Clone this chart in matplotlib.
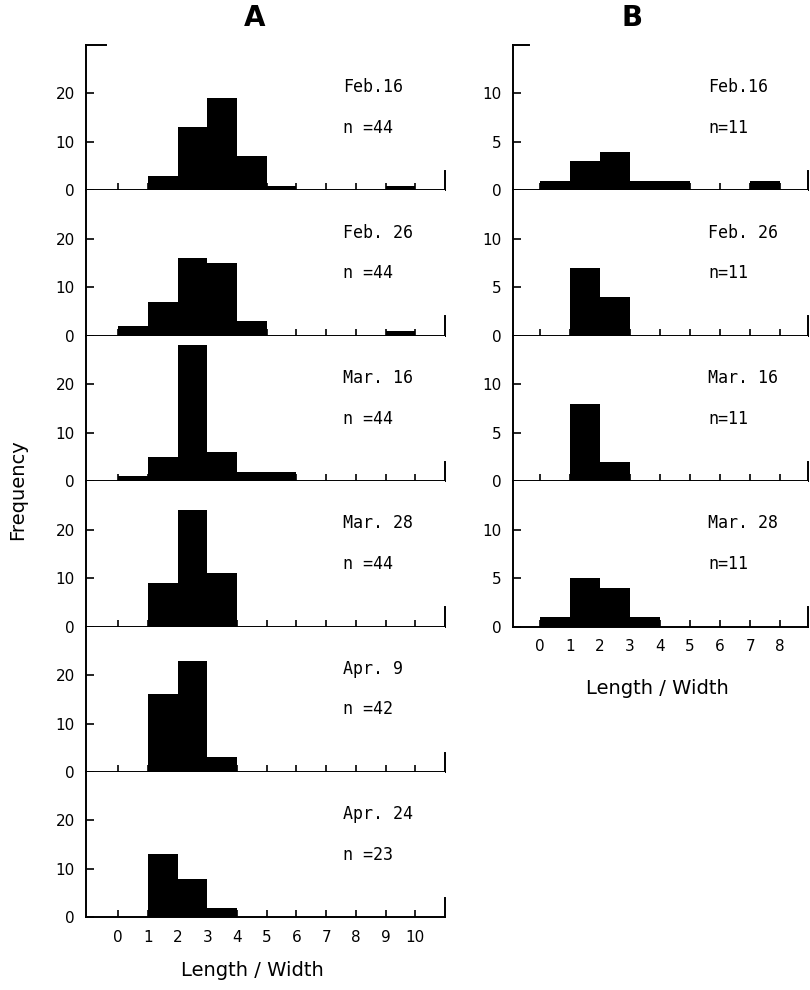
import matplotlib
matplotlib.use("Agg")
import matplotlib.pyplot as plt

# ---- data ----
bins_a = list(range(0, 10))          # left edges of bins, panel A
bins_b = list(range(0, 9))           # left edges of bins, panel B
xticks_a = list(range(0, 11))
xticks_b = list(range(0, 9))

dates_a = ["Feb.16", "Feb. 26", "Mar. 16", "Mar. 28", "Apr. 9", "Apr. 24"]
n_a = ["n =44", "n =44", "n =44", "n =44", "n =42", "n =23"]
feb16_a = [0, 3, 13, 19, 7, 1, 0, 0, 0, 1]
feb26_a = [2, 7, 16, 15, 3, 0, 0, 0, 0, 1]
mar16_a = [1, 5, 28, 6, 2, 2, 0, 0, 0, 0]
mar28_a = [0, 9, 24, 11, 0, 0, 0, 0, 0, 0]
apr9_a = [0, 16, 23, 3, 0, 0, 0, 0, 0, 0]
apr24_a = [0, 13, 8, 2, 0, 0, 0, 0, 0, 0]
counts_a = [feb16_a, feb26_a, mar16_a, mar28_a, apr9_a, apr24_a]

dates_b = ["Feb.16", "Feb. 26", "Mar. 16", "Mar. 28"]
n_b = ["n=11", "n=11", "n=11", "n=11"]
feb16_b = [1, 3, 4, 1, 1, 0, 0, 1, 0]
feb26_b = [0, 7, 4, 0, 0, 0, 0, 0, 0]
mar16_b = [0, 8, 2, 0, 0, 0, 0, 0, 0]
mar28_b = [1, 5, 4, 1, 0, 0, 0, 0, 0]
counts_b = [feb16_b, feb26_b, mar16_b, mar28_b]

yticks_a = [0, 10, 20]
yticks_b = [0, 5, 10]

# ---- layout ----
W, H = 810, 990
fig = plt.figure(figsize=(W / 100, H / 100), dpi=100)
plt.rcParams['font.family'] = ['DejaVu Sans']

top_px = 45
panel_px = 145.4


def make_ax(left_px, right_px, k):
    y0 = top_px + (k + 1) * panel_px
    return fig.add_axes([left_px / W, 1 - y0 / H, (right_px - left_px) / W, panel_px / H])


def style(ax, xlim, ylim, xticks, yticks, rbound, show_xlabels, is_top):
    ax.set_xlim(*xlim)
    ax.set_ylim(*ylim)
    ax.spines["top"].set_visible(False)
    ax.spines["right"].set_bounds(0, rbound)
    for s in ["left", "bottom", "right"]:
        ax.spines[s].set_linewidth(1.4)
    ax.set_xticks(xticks)
    ax.set_yticks(yticks)
    ax.set_yticklabels([str(v) for v in yticks], fontsize=11)
    ax.tick_params(axis="x", direction="in", length=5, width=1.2, pad=9)
    ax.tick_params(axis="y", direction="in", length=6, width=1.2, pad=8)
    if show_xlabels:
        ax.set_xticklabels([str(v) for v in xticks], fontsize=11)
    else:
        ax.set_xticklabels([])
    if is_top:
        ax.axhline(ylim[1], xmin=0, xmax=0.055, color="black", lw=1.4, clip_on=False)


txt_kw = dict(fontsize=12, va="center", ha="left", family="DejaVu Sans Mono")

for k, (cnt, d, n) in enumerate(zip(counts_a, dates_a, n_a)):
    ax = make_ax(86, 445, k)
    ax.bar(bins_a, cnt, width=1, align="edge", color="black", linewidth=0, zorder=3)
    style(ax, (-1.08, 11.0), (0, 30), xticks_a, yticks_a, 4, k == len(counts_a) - 1, k == 0)
    ax.text(0.716, 0.71, d, transform=ax.transAxes, **txt_kw)
    ax.text(0.716, 0.43, n, transform=ax.transAxes, **txt_kw)

for k, (cnt, d, n) in enumerate(zip(counts_b, dates_b, n_b)):
    ax = make_ax(513, 808, k)
    ax.bar(bins_b, cnt, width=1, align="edge", color="black", linewidth=0, zorder=3)
    style(ax, (-0.9, 8.93), (0, 15), xticks_b, yticks_b, 2, k == len(counts_b) - 1, k == 0)
    ax.text(0.661, 0.71, d, transform=ax.transAxes, **txt_kw)
    ax.text(0.661, 0.43, n, transform=ax.transAxes, **txt_kw)

fig.text(255 / W, 1 - 18 / H, "A", fontsize=20, fontweight="bold", ha="center", va="center")
fig.text(632 / W, 1 - 18 / H, "B", fontsize=20, fontweight="bold", ha="center", va="center")
fig.text(18 / W, 1 - 490 / H, "Frequency", fontsize=14, rotation=90, ha="center", va="center")
fig.text(252 / W, 1 - 970 / H, "Length / Width", fontsize=14, ha="center", va="center")
fig.text(657 / W, 1 - 688 / H, "Length / Width", fontsize=14, ha="center", va="center")

fig.savefig("out.png", dpi=100)
